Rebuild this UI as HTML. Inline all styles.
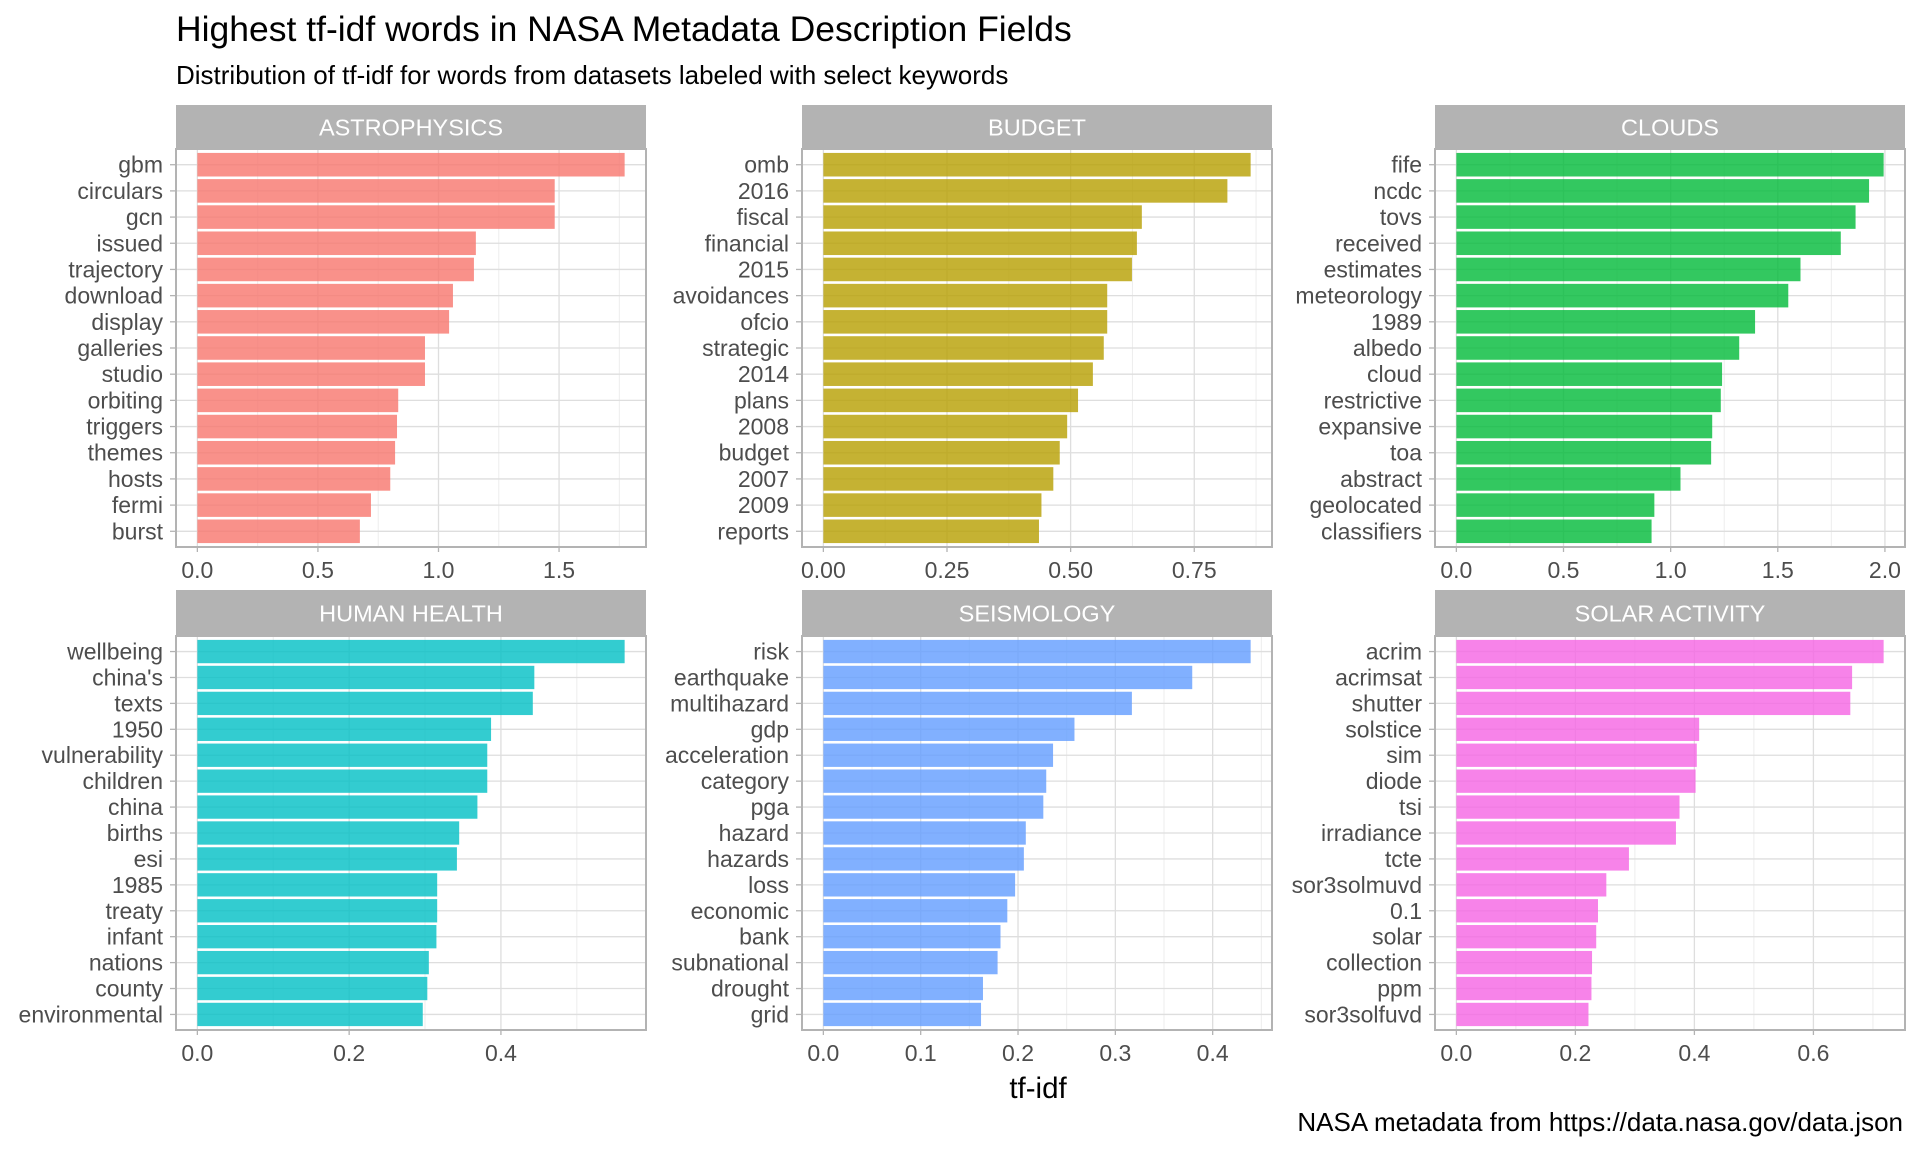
<!DOCTYPE html>
<html><head><meta charset="utf-8">
<style>
html,body{margin:0;padding:0;background:#fff;}
svg{display:block;font-family:"Liberation Sans",sans-serif;}
</style></head>
<body>
<svg id="chart" width="1920" height="1152" viewBox="0 0 1920 1152" xmlns="http://www.w3.org/2000/svg">
<rect width="1920" height="1152" fill="#fff"/>
<text x="176" y="41" font-size="35.5" fill="#000">Highest tf-idf words in NASA Metadata Description Fields</text>
<text x="176" y="84" font-size="26" fill="#000">Distribution of tf-idf for words from datasets labeled with select keywords</text>
<text x="1038" y="1098" font-size="29.5" fill="#000" text-anchor="middle">tf-idf</text>
<text x="1903" y="1131" font-size="26" fill="#000" text-anchor="end">NASA metadata from https://data.nasa.gov/data.json</text>
<g id="panels"></g>
</svg>
<script>
const facetNames = ["ASTROPHYSICS","BUDGET","CLOUDS","HUMAN HEALTH","SEISMOLOGY","SOLAR ACTIVITY"];
const facetColors = ["#F8766D","#B79F00","#00BA38","#00BFC4","#619CFF","#F564E3"];
const astroWords = ["gbm","circulars","gcn","issued","trajectory","download","display","galleries","studio","orbiting","triggers","themes","hosts","fermi","burst"];
const astroValues = [1.772,1.482,1.482,1.155,1.147,1.060,1.044,0.944,0.944,0.833,0.828,0.820,0.800,0.720,0.674];
const budgetWords = ["omb","2016","fiscal","financial","2015","avoidances","ofcio","strategic","2014","plans","2008","budget","2007","2009","reports"];
const budgetValues = [0.864,0.817,0.644,0.634,0.624,0.574,0.574,0.567,0.545,0.515,0.493,0.478,0.465,0.441,0.436];
const cloudsWords = ["fife","ncdc","tovs","received","estimates","meteorology","1989","albedo","cloud","restrictive","expansive","toa","abstract","geolocated","classifiers"];
const cloudsValues = [1.994,1.926,1.863,1.794,1.606,1.549,1.394,1.32,1.24,1.234,1.194,1.189,1.046,0.924,0.911];
const healthWords = ["wellbeing","china's","texts","1950","vulnerability","children","china","births","esi","1985","treaty","infant","nations","county","environmental"];
const healthValues = [0.563,0.444,0.442,0.387,0.382,0.382,0.369,0.345,0.342,0.316,0.316,0.315,0.305,0.303,0.297];
const seisWords = ["risk","earthquake","multihazard","gdp","acceleration","category","pga","hazard","hazards","loss","economic","bank","subnational","drought","grid"];
const seisValues = [0.439,0.379,0.317,0.258,0.236,0.229,0.226,0.208,0.206,0.197,0.189,0.182,0.179,0.164,0.162];
const solarWords = ["acrim","acrimsat","shutter","solstice","sim","diode","tsi","irradiance","tcte","sor3solmuvd","0.1","solar","collection","ppm","sor3solfuvd"];
const solarValues = [0.718,0.665,0.662,0.408,0.404,0.402,0.375,0.369,0.290,0.252,0.238,0.235,0.228,0.227,0.222];
const astroTicks = [0,0.5,1,1.5];
const budgetTicks = [0,0.25,0.5,0.75];
const cloudsTicks = [0,0.5,1,1.5,2];
const healthTicks = [0,0.2,0.4];
const seisTicks = [0,0.1,0.2,0.3,0.4];
const solarTicks = [0,0.2,0.4,0.6];
const astroTickLabels = ["0.0","0.5","1.0","1.5"];
const budgetTickLabels = ["0.00","0.25","0.50","0.75"];
const cloudsTickLabels = ["0.0","0.5","1.0","1.5","2.0"];
const healthTickLabels = ["0.0","0.2","0.4"];
const seisTickLabels = ["0.0","0.1","0.2","0.3","0.4"];
const solarTickLabels = ["0.0","0.2","0.4","0.6"];

const allWords=[astroWords,budgetWords,cloudsWords,healthWords,seisWords,solarWords];
const allValues=[astroValues,budgetValues,cloudsValues,healthValues,seisValues,solarValues];
const allTicks=[astroTicks,budgetTicks,cloudsTicks,healthTicks,seisTicks,solarTicks];
const allTickLabels=[astroTickLabels,budgetTickLabels,cloudsTickLabels,healthTickLabels,seisTickLabels,solarTickLabels];

const NS="http://www.w3.org/2000/svg";
const root=document.getElementById('panels');
function mk(tag,attrs,parent){const e=document.createElementNS(NS,tag);for(const k in attrs)e.setAttribute(k,attrs[k]);parent.appendChild(e);return e;}
const colX=[176,802,1435], W=470;
const rows=[{st:105,top:149,bot:547},{st:590,top:636,bot:1030}];
for(let p=0;p<6;p++){
  const L=colX[p%3], R=L+W, r=rows[Math.floor(p/3)];
  const vals=allValues[p], words=allWords[p], ticks=allTicks[p], tl=allTickLabels[p];
  const m=Math.max(...vals);
  const d0=-0.05*m, d1=1.05*m;
  const xs=v=>L+(v-d0)/(d1-d0)*W;
  const n=words.length, H=r.bot-r.top;
  const ys=i=>r.top+(i+0.6)/(n+0.2)*H;
  const band=H/(n+0.2);
  const g=mk('g',{},root);
  
  
  const strip=mk('rect',{x:L,y:r.st,width:W,height:r.top-r.st,fill:'#B3B3B3'},g);
  
  
  const st=mk('text',{x:L+W/2,y:(r.st+r.top)/2+8.5,'font-size':23.5,fill:'#fff','text-anchor':'middle'},g);
  st.textContent=facetNames[p];
  
  
  const step=ticks[1]-ticks[0];
  for(let v=ticks[0]+step/2; v<d1; v+=step){
    const gl=mk('line',{x1:xs(v),x2:xs(v),y1:r.top,y2:r.bot,stroke:'#EDEDED','stroke-width':1},g);
    
    
  }
  ticks.forEach((t,i)=>{
    const gl=mk('line',{x1:xs(t),x2:xs(t),y1:r.top,y2:r.bot,stroke:'#DEDEDE','stroke-width':1.3},g);
    
    
    const tk=mk('line',{x1:xs(t),x2:xs(t),y1:r.bot,y2:r.bot+5,stroke:'#B3B3B3','stroke-width':1.3},g);
    
    
    const tx=mk('text',{x:xs(t),y:r.bot+31,'font-size':23,fill:'#4D4D4D','text-anchor':'middle'},g);
    tx.textContent=tl[i];
    
    
  });
  words.forEach((w,i)=>{
    const y=ys(i);
    const gl=mk('line',{x1:L,x2:R,y1:y,y2:y,stroke:'#DEDEDE','stroke-width':1.3},g);
    
    
    const tk=mk('line',{x1:L-6,x2:L,y1:y,y2:y,stroke:'#B3B3B3','stroke-width':1.3},g);
    
    
    const tx=mk('text',{x:L-13,y:y+8,'font-size':23,fill:'#4D4D4D','text-anchor':'end'},g);
    tx.textContent=w;
    
    
  });
  vals.forEach((v,i)=>{
    const y=ys(i);
    const b=mk('rect',{x:xs(0),y:y-band*0.45,width:xs(v)-xs(0),height:band*0.9,fill:facetColors[p],'fill-opacity':0.8},g);
    
    
  });
  const bd=mk('rect',{x:L,y:r.top,width:W,height:H,fill:'none',stroke:'#B3B3B3','stroke-width':2},g);
  
  
}
</script>
</body></html>
